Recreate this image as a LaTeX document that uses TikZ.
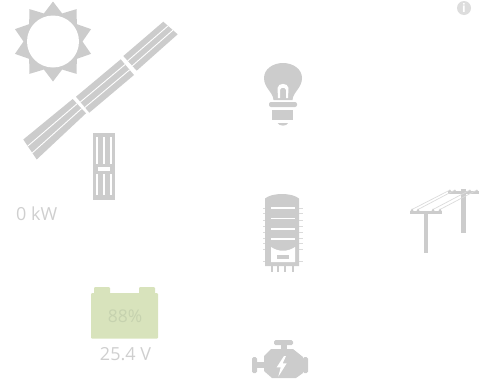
\documentclass[tikz,border=0pt]{standalone}
\usepackage{fontspec}
\setmainfont{Open Sans}
\usepackage{xcolor}
\usetikzlibrary{calc}
\definecolor{icongray}{HTML}{CCCCCC}
\definecolor{infogray}{HTML}{DDDDDD}
\definecolor{labelgray}{HTML}{CFCFCF}
\definecolor{battgreen}{HTML}{D8E3BC}
\definecolor{battlabel}{HTML}{C6D2AF}
\begin{document}
\begin{tikzpicture}[x=1pt,y=-1pt,
          icon/.style={fill=icongray,draw=none},
          cut/.style={fill=white,draw=none},
          wire/.style={draw=icongray!70,line width=0.7pt},
          value/.style={text=labelgray,inner sep=0pt,font=\fontsize{18}{18}\selectfont}]
          \useasboundingbox (0,0) rectangle (490,386);
          % sun
          \fill[icon] (53,41.5) +(90:-40)
            \foreach \a in {0,36,...,324}{ -- +(90+\a:-40) -- +(108+\a:-29.5) } -- cycle;
          \fill[cut] (53,41.5) circle (26);
          % solar panels
          \foreach \xa/\ya/\xb/\yb/\xc/\yc/\xd/\yd in {
              23.3/139.5/36.7/159.5/86/113.3/72.7/99,
              76/96.7/89.3/112.7/134/75/120.7/59.3,
              123.3/56/136.7/70.7/177.7/34.3/163.3/21.7}{
            \fill[icon] (\xa,\ya) -- (\xb,\yb) -- (\xc,\yc) -- (\xd,\yd) -- cycle;
            \draw[white,line width=0.9pt] ($(\xa,\ya)!0.33!(\xb,\yb)$) -- ($(\xd,\yd)!0.33!(\xc,\yc)$);
            \draw[white,line width=0.9pt] ($(\xa,\ya)!0.67!(\xb,\yb)$) -- ($(\xd,\yd)!0.67!(\xc,\yc)$);
          }
          % dc switch
          \fill[icon] (93.3,133) rectangle (114.7,200);
          \foreach \x in {96,102.8,109.7}{
            \fill[cut] (\x,136.7) rectangle (\x+2.3,164);
            \fill[cut] (\x,173.7) rectangle (\x+2.3,194.7);
          }
          \fill[cut] (98,167) rectangle (110,171.3);
          \node[value,anchor=west] (pvpower) at (16,213.5) {0 kW};
          % bulb
          \fill[icon] (273.5,100) .. controls (273,92) and (264,88) .. (264,78)
            .. controls (264,69) and (273,63) .. (283,63)
            .. controls (293,63) and (302,69) .. (302,78)
            .. controls (302,88) and (293,92) .. (292.5,100) -- cycle;
          \fill[cut] (278,98) -- (277.5,88) .. controls (278,82.5) and (288,82.5) .. (288.5,88)
            -- (288,98) -- (286,98) -- (286,90) .. controls (285.5,87) and (280.5,87) .. (280,90)
            -- (280,98) -- cycle;
          \fill[icon,rounded corners=2pt] (269,102) rectangle (297,107);
          \fill[icon] (272,110) rectangle (293,120);
          \fill[icon] (277.5,123) -- (288,123) .. controls (287,126.5) and (279,126.5) .. (277.5,123) -- cycle;
          % inverter
          \foreach \y in {208,213,220,226,232,238,243,249,261}{
            \fill[icongray!70] (262.5,\y) rectangle (302.5,\y+0.8);
          }
          \fill[icon] (265,198.5) .. controls (272,192.5) and (292,192.5) .. (299,198.5) -- (299,266) -- (265,266) -- cycle;
          \foreach \y in {208,218.5,229,239}{
            \fill[cut] (271,\y-0.7) rectangle (295,\y+0.7);
          }
          \fill[cut] (271,247) .. controls (278,252) and (288,252) .. (295,247) -- (295,262) -- (271,262) -- cycle;
          \fill[icon] (277,255) rectangle (289,258.5);
          \foreach \x in {271,277,284,292}{
            \fill[icon] (\x,266) rectangle (\x+2,272);
          }
          % grid
          \fill[icon] (423.7,212) rectangle (428.3,253);
          \fill[icon] (461,189) rectangle (465.7,233);
          \fill[icon] (410,210.5) rectangle (442,214);
          \fill[icon] (448,191) rectangle (479,193.5);
          \foreach \xa/\xb in {412/450,418/455,433/470,440/477}{
            \draw[wire] (\xa,209.5) -- (\xb,190);
            \fill[icon] (\xa-1.5,211) -- (\xa,208.5) -- (\xa+1.5,211) -- cycle;
            \fill[icon] (\xb-1.5,192) -- (\xb,189.5) -- (\xb+1.5,192) -- cycle;
          }
          % battery
          \fill[battgreen,rounded corners=1pt] (94,287) rectangle (110,296);
          \fill[battgreen,rounded corners=1pt] (139,287) rectangle (155,296);
          \fill[battgreen,rounded corners=1pt] (91,293) rectangle (158,338.5);
          \node[inner sep=0pt,text=battlabel,font=\fontsize{17.5}{17.5}\selectfont] (soc) at (125,316) {88\%};
          \node[value] (voltage) at (125.5,354) {25.4 V};
          % generator
          \fill[icon,rounded corners=1.5pt] (274,340) rectangle (293,345);
          \fill[icon] (281,344) rectangle (287,350);
          \fill[icon] (271,349) -- (293,349) -- (303,357) -- (303,373) -- (296,378) -- (272,378) -- (264,371) -- (264,356) -- cycle;
          \fill[icon] (256,362) rectangle (265,368);
          \fill[icon] (302,362) rectangle (304,368);
          \fill[icon,rounded corners=1.5pt] (252,357) rectangle (257,373);
          \fill[icon,rounded corners=1.5pt] (303,357) rectangle (308,373);
          \fill[cut] (284,356) -- (276.7,367.3) -- (280.7,367.3) -- (278.3,376.7) -- (286.7,363.3) -- (282.7,363.3) -- (286,356) -- cycle;
          % info
          \fill[infogray] (464,8) circle (7);
          \node[inner sep=0pt,text=white,font=\bfseries\fontsize{12}{12}\selectfont] (info) at (464,8) {i};
        \end{tikzpicture}
\end{document}
